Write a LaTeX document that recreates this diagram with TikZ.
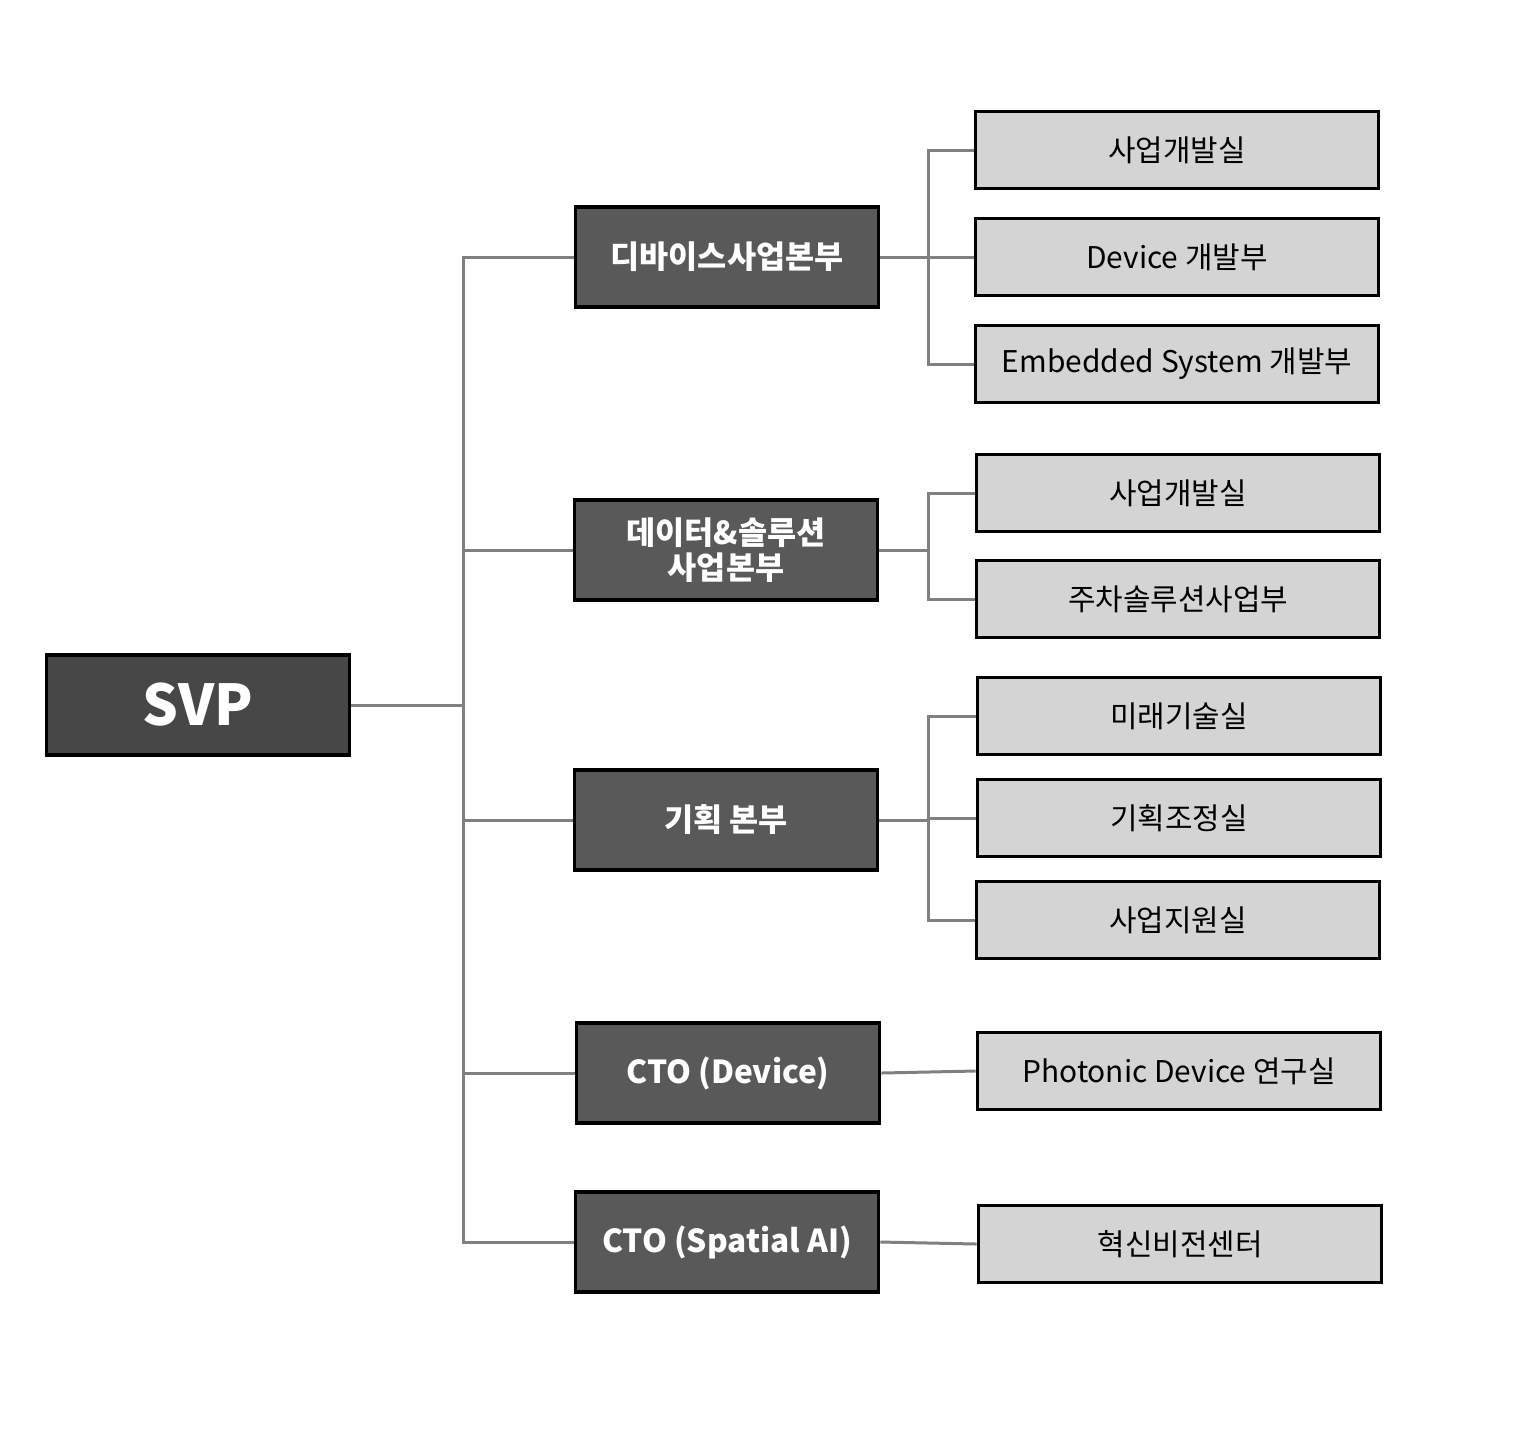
\documentclass[tikz,border=0pt]{standalone}
\usepackage{fontspec}
\setmainfont{Noto Sans CJK KR}
\usetikzlibrary{calc}

\definecolor{topfill}{HTML}{474747}
\definecolor{midfill}{HTML}{595959}
\definecolor{subfill}{HTML}{D4D4D4}
\definecolor{connline}{HTML}{808080}

\tikzset{
  svpbox/.style={draw=black, line width=1pt, fill=topfill, text=white,
    minimum width=3.03cm, minimum height=1.0cm, font=\bfseries\fontsize{16}{18}\selectfont},
  headbox/.style={draw=black, line width=1pt, fill=midfill, text=white,
    minimum width=3.03cm, minimum height=1.0cm, align=center,
    font=\bfseries\fontsize{9}{10}\selectfont},
  teambox/.style={draw=black, line width=1pt, fill=subfill,
    minimum width=4.03cm, minimum height=0.77cm, font=\fontsize{8.5}{10}\selectfont},
  conn/.style={draw=connline, line width=0.85pt}
}

\begin{document}
\begin{tikzpicture}[x=0.01cm, y=-0.01cm]
\useasboundingbox (0,0) rectangle (1527,1429);

% top
\node[svpbox] (svp) at (198,705) {SVP};

% divisions
\node[headbox] (dev) at (727,257) {디바이스사업본부};
\node[headbox] (data) at (726,550) {데이터\&솔루션\\사업본부};
\node[headbox] (plan) at (726,820) {기획 본부};
\node[headbox] (ctod) at (728,1073) {CTO (Device)};
\node[headbox] (ctos) at (727,1242) {CTO (Spatial AI)};

% teams
\node[teambox] (devA) at (1177,150) {사업개발실};
\node[teambox] (devB) at (1177,257) {Device 개발부};
\node[teambox] (devC) at (1177,364) {Embedded System 개발부};
\node[teambox] (dataA) at (1178,493) {사업개발실};
\node[teambox] (dataB) at (1178,599) {주차솔루션사업부};
\node[teambox] (planA) at (1179,716) {미래기술실};
\node[teambox] (planB) at (1179,818) {기획조정실};
\node[teambox] (planC) at (1178,920) {사업지원실};
\node[teambox] (ctodA) at (1179,1071) {Photonic Device 연구실};
\node[teambox] (ctosA) at (1180,1244) {혁신비전센터};

% connectors
\draw[conn] (svp.east) -- (463,705) coordinate (trunk);
\foreach \d in {dev,data,plan,ctod,ctos}
  \draw[conn] (trunk) |- (\d.west);

\draw[conn] (dev.east) -- (928,257) coordinate (devT);
\foreach \t in {devA,devB,devC}
  \draw[conn] (devT) |- (\t.west);

\draw[conn] (data.east) -- (928,550) coordinate (dataT);
\foreach \t in {dataA,dataB}
  \draw[conn] (dataT) |- (\t.west);

\draw[conn] (plan.east) -- (928,820) coordinate (planT);
\foreach \t in {planA,planB,planC}
  \draw[conn] (planT) |- (\t.west);

\draw[conn] (ctod.east) -- (ctodA.west);
\draw[conn] (ctos.east) -- (ctosA.west);
\end{tikzpicture}
\end{document}
